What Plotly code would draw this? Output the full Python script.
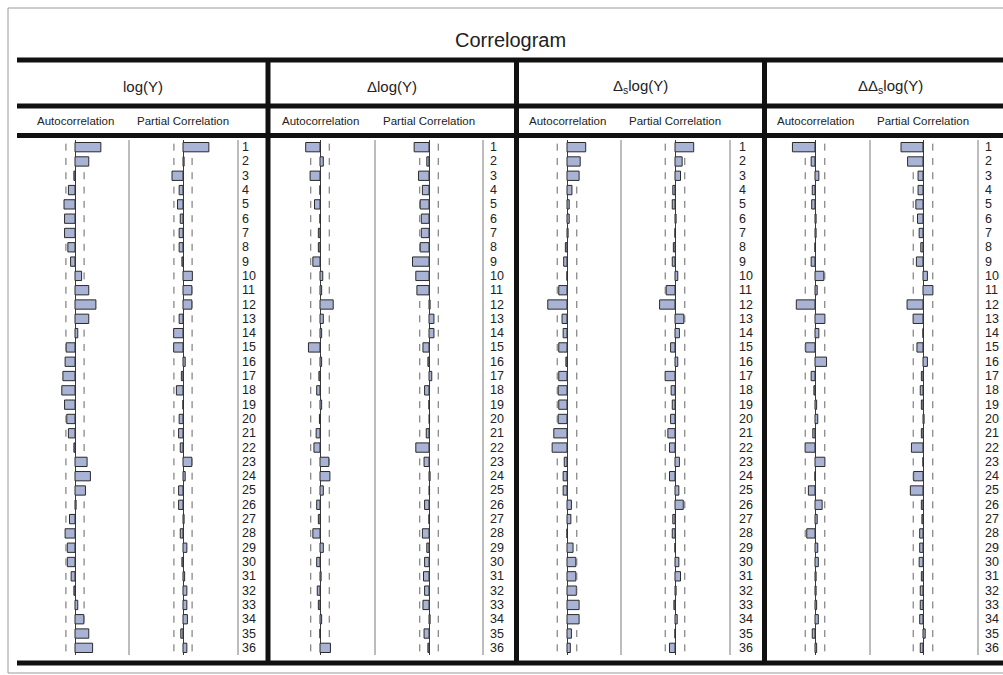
import plotly.graph_objects as go

# ---------------- data ----------------
lags = list(range(1, 37))
panel_titles = ["log(Y)", "Δlog(Y)", "Δ<sub>s</sub>log(Y)", "ΔΔ<sub>s</sub>log(Y)"]
column_titles = ["Autocorrelation", "Partial Correlation"]
chart_title = "Correlogram"

acf_logy = [0.47, 0.25, -0.02, -0.12, -0.20, -0.19, -0.19, -0.13, -0.08, 0.12, 0.25, 0.38, 0.25,
            0.05, -0.16, -0.18, -0.22, -0.24, -0.19, -0.15, -0.12, -0.02, 0.22, 0.28, 0.19, 0.02,
            -0.10, -0.18, -0.14, -0.14, -0.07, -0.02, 0.05, 0.16, 0.25, 0.32]
pacf_logy = [0.47, 0.02, -0.20, -0.07, -0.10, -0.05, -0.07, -0.07, -0.02, 0.17, 0.16, 0.16, -0.07,
             -0.17, -0.17, 0.04, -0.03, -0.12, 0.0, -0.07, -0.08, -0.05, 0.16, 0.04, -0.08, -0.08,
             0.02, -0.05, 0.07, -0.02, 0.03, 0.07, 0.07, 0.08, -0.04, 0.07]

acf_dlogy = [-0.26, 0.06, -0.18, 0.0, -0.10, 0.0, -0.03, -0.03, -0.13, 0.05, 0.03, 0.24, 0.06,
             0.03, -0.21, 0.03, -0.02, -0.06, 0.03, -0.01, -0.07, -0.11, 0.16, 0.18, 0.06, -0.06,
             -0.03, -0.13, 0.06, -0.06, 0.02, -0.05, -0.03, 0.03, 0.0, 0.19]
pacf_dlogy = [-0.27, -0.04, -0.19, -0.12, -0.16, -0.14, -0.14, -0.16, -0.30, -0.24, -0.22, 0.02, 0.09,
              0.09, -0.11, -0.02, 0.05, -0.08, 0.0, 0.01, -0.05, -0.24, -0.09, 0.02, 0.01, -0.08,
              0.0, -0.12, -0.04, -0.08, -0.10, -0.08, -0.11, 0.02, -0.09, -0.02]

acf_sdlogy = [0.34, 0.24, 0.22, 0.09, 0.04, 0.04, 0.02, -0.03, -0.06, 0.0, -0.15, -0.35, -0.09,
              -0.07, -0.15, -0.02, -0.15, -0.16, -0.15, -0.16, -0.24, -0.27, -0.05, -0.07, -0.07, 0.08,
              0.07, 0.0, 0.11, 0.16, 0.16, 0.17, 0.22, 0.22, 0.08, 0.06]
pacf_sdlogy = [0.34, 0.13, 0.10, -0.04, -0.05, 0.02, 0.0, -0.03, -0.05, 0.05, -0.16, -0.28, 0.16,
               0.08, -0.08, 0.05, -0.18, -0.07, -0.05, -0.08, -0.13, -0.10, 0.08, -0.10, 0.07, 0.15,
               -0.04, -0.05, 0.0, 0.07, 0.10, 0.02, -0.02, 0.04, 0.0, -0.10]

acf_ddlogy = [-0.41, -0.07, 0.07, -0.05, -0.06, 0.02, 0.02, 0.0, -0.07, 0.16, 0.04, -0.34, 0.18,
              0.07, -0.17, 0.21, -0.07, -0.02, 0.03, 0.05, -0.04, -0.18, 0.18, 0.0, -0.12, 0.13,
              0.04, -0.15, 0.05, 0.06, 0.02, 0.02, 0.03, 0.06, -0.05, 0.03]
pacf_ddlogy = [-0.40, -0.28, -0.09, -0.09, -0.13, -0.10, -0.07, -0.04, -0.12, 0.08, 0.18, -0.29, -0.18,
               0.0, -0.11, 0.08, -0.03, -0.05, -0.03, 0.02, -0.03, -0.21, 0.0, -0.17, -0.23, -0.03,
               -0.02, -0.06, -0.06, -0.07, -0.03, -0.05, -0.05, -0.06, 0.04, -0.05]

# confidence band (+/- 2/sqrt(T)) per panel
bands = [0.165, 0.168, 0.178, 0.178]

acf_series = [acf_logy, acf_dlogy, acf_sdlogy, acf_ddlogy]
pacf_series = [pacf_logy, pacf_dlogy, pacf_sdlogy, pacf_ddlogy]

# ---------------- layout geometry (pixels) ----------------
W, H = 1003, 675
acf_zero_px = [75, 320, 567, 815]
pacf_zero_px = [183, 429, 675, 923]
col_sep_px = [129, 375, 621, 870]
lag_sep_px = [238, 483, 730, 978]
lag_text_px = [240, 488, 737, 983]
panel_edges_px = [17, 268, 516.5, 764.5, 1016]
HALF = 55          # pixels for a correlation of 1
ROW_TOP, ROW_BOT = 140, 655

BAR_FILL = "#A9B3D5"
BAR_LINE = "#2a2a2a"
FONT = "Arial, Liberation Sans, sans-serif"


def fx(p):
    return p / W


def fy(p):
    return 1 - p / H


fig = go.Figure()
layout_axes = {}

k = 0
for p in range(4):
    for vals, zero in ((acf_series[p], acf_zero_px[p]), (pacf_series[p], pacf_zero_px[p])):
        k += 1
        xname = "x" if k == 1 else f"x{k}"
        lname = "xaxis" if k == 1 else f"xaxis{k}"
        layout_axes[lname] = dict(
            domain=[fx(zero - HALF), fx(zero + HALF)], range=[-1, 1], anchor="y",
            showticklabels=False, showgrid=False, showline=False, ticks="",
            zeroline=True, zerolinecolor="#3a3a3a", zerolinewidth=1, fixedrange=True)
        b = bands[p]
        dx, dy = [], []
        for lag, v in zip(lags, vals):
            if v < b:
                dx.append(b)
                dy.append(lag)
            if v > -b:
                dx.append(-b)
                dy.append(lag)
        fig.add_trace(go.Scatter(
            x=dx, y=dy, mode="markers", xaxis=xname, yaxis="y", showlegend=False,
            hoverinfo="skip",
            marker=dict(symbol="line-ns", size=5, line=dict(color="#666666", width=1))))
        fig.add_trace(go.Bar(
            x=vals, y=lags, orientation="h", width=0.65, xaxis=xname, yaxis="y",
            showlegend=False,
            marker=dict(color=BAR_FILL, line=dict(color=BAR_LINE, width=1))))

shapes = []
# outer frame
shapes.append(dict(type="rect", xref="paper", yref="paper", x0=fx(8), x1=fx(1012),
                   y0=fy(673), y1=fy(8), line=dict(color="#9a9a9a", width=1)))
# thick horizontal rules
for yy in (60, 106, 135.5, 663):
    shapes.append(dict(type="line", xref="paper", yref="paper", x0=fx(17), x1=fx(1012),
                       y0=fy(yy), y1=fy(yy), line=dict(color="#111111", width=5)))
# thick vertical panel separators
for xx in panel_edges_px[1:4]:
    shapes.append(dict(type="line", xref="paper", yref="paper", x0=fx(xx), x1=fx(xx),
                       y0=fy(58), y1=fy(665), line=dict(color="#111111", width=5)))
# thin column separators
for xx in col_sep_px + lag_sep_px:
    shapes.append(dict(type="line", xref="paper", yref="paper", x0=fx(xx), x1=fx(xx),
                       y0=fy(ROW_TOP), y1=fy(ROW_BOT), line=dict(color="#7a7a7a", width=1)))

ann = []
ann.append(dict(text=chart_title, x=fx(510), y=fy(40), xref="paper", yref="paper",
                xanchor="center", yanchor="middle",
                showarrow=False, font=dict(size=20, color="#222222", family=FONT)))
for p in range(4):
    cx = (panel_edges_px[p] + panel_edges_px[p + 1]) / 2
    ann.append(dict(text=panel_titles[p], x=fx(cx), y=fy(87), xref="paper", yref="paper",
                    xanchor="center", yanchor="middle",
                    showarrow=False, font=dict(size=15, color="#222222", family=FONT)))
    for t, zx in zip(column_titles, (acf_zero_px[p], pacf_zero_px[p])):
        ann.append(dict(text=t, x=fx(zx), y=fy(120.5), xref="paper", yref="paper",
                        xanchor="center", yanchor="middle",
                        showarrow=False, font=dict(size=11.5, color="#222222", family=FONT)))
    for lag in lags:
        ann.append(dict(text=str(lag), x=fx(lag_text_px[p]), y=lag, xref="paper", yref="y",
                        xanchor="left", yanchor="middle", showarrow=False,
                        font=dict(size=12.5, color="#222222", family=FONT)))

fig.update_layout(
    width=W, height=H, margin=dict(l=0, r=0, t=0, b=0),
    paper_bgcolor="white", plot_bgcolor="rgba(0,0,0,0)",
    barmode="overlay", showlegend=False,
    yaxis=dict(domain=[fy(ROW_BOT), fy(ROW_TOP)], range=[36.5, 0.5], visible=False,
               fixedrange=True),
    shapes=shapes, annotations=ann,
    font=dict(family=FONT),
    **layout_axes)

fig.write_html("out.html", config={"displayModeBar": False},
               post_script="document.body.style.margin='0';document.body.style.overflow='hidden';")
